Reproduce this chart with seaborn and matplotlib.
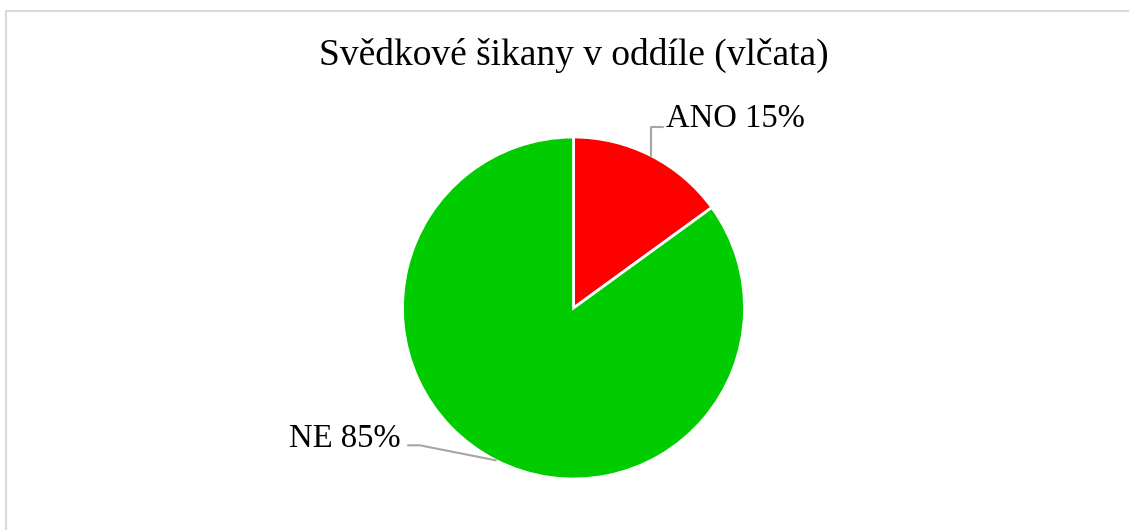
import numpy as np
import seaborn as sns
import matplotlib.pyplot as plt
from matplotlib.patches import Rectangle

# ---------------- STYLE ----------------
sns.set_theme(style="white")
plt.rcParams["font.family"] = ["Liberation Serif", "DejaVu Serif"]

# ---------------- DATA ----------------
labels = ["ANO", "NE"]
shares = [15, 85]
colors = ["#FF0000", "#00CC00"]
title = "Svědkové šikany v oddíle (vlčata)"

fig = plt.figure(figsize=(11.29, 5.30), dpi=100)

# chart border (light gray, only left/top visible in the crop)
fig.patches.append(Rectangle((6 / 1129, -0.1), 1.2, 1 - 10.5 / 530 + 0.1,
                             transform=fig.transFigure, fill=False,
                             edgecolor="#D9D9D9", linewidth=1.5))

# pie axes: radius 171 px, centre at (573.5, 308) px
r_px = 171
cx, cy = 573.5, 530 - 308
ax = fig.add_axes([(cx - r_px) / 1129, (cy - r_px) / 530,
                   2 * r_px / 1129, 2 * r_px / 530])

wedges, _ = ax.pie(shares, colors=colors, startangle=90, counterclock=False,
                   radius=1, wedgeprops=dict(edgecolor="white", linewidth=2))
ax.set_xlim(-1, 1)
ax.set_ylim(-1, 1)
ax.set_aspect("equal")
ax.axis("off")

line_col = "#A6A6A6"
for w, lab, val in zip(wedges, labels, shares):
    mid = np.deg2rad((w.theta1 + w.theta2) / 2)
    ex, ey = np.cos(mid) * 1.0, np.sin(mid) * 1.0
    text = f"{lab} {val}%"
    if ex > 0:
        # elbow: up then right
        ky = ey + 0.165
        ax.plot([ex, ex, ex + 0.07], [ey, ky, ky], color=line_col, lw=1.5,
                clip_on=False)
        ax.text(ex + 0.085, ky + 0.05, text, ha="left", va="center",
                fontsize=23.5, color="black")
    else:
        kx, ky = ex - 0.514, ey + 0.088
        ax.plot([ex, kx + 0.07, kx], [ey, ky, ky], color=line_col, lw=1.5,
                clip_on=False)
        ax.text(kx - 0.045, ky + 0.04, text, ha="right", va="center",
                fontsize=23.5, color="black")

fig.text(574 / 1129, 1 - 55 / 530, title, ha="center", va="center",
         fontsize=27, color="black")

fig.savefig("out.png", dpi=100)
